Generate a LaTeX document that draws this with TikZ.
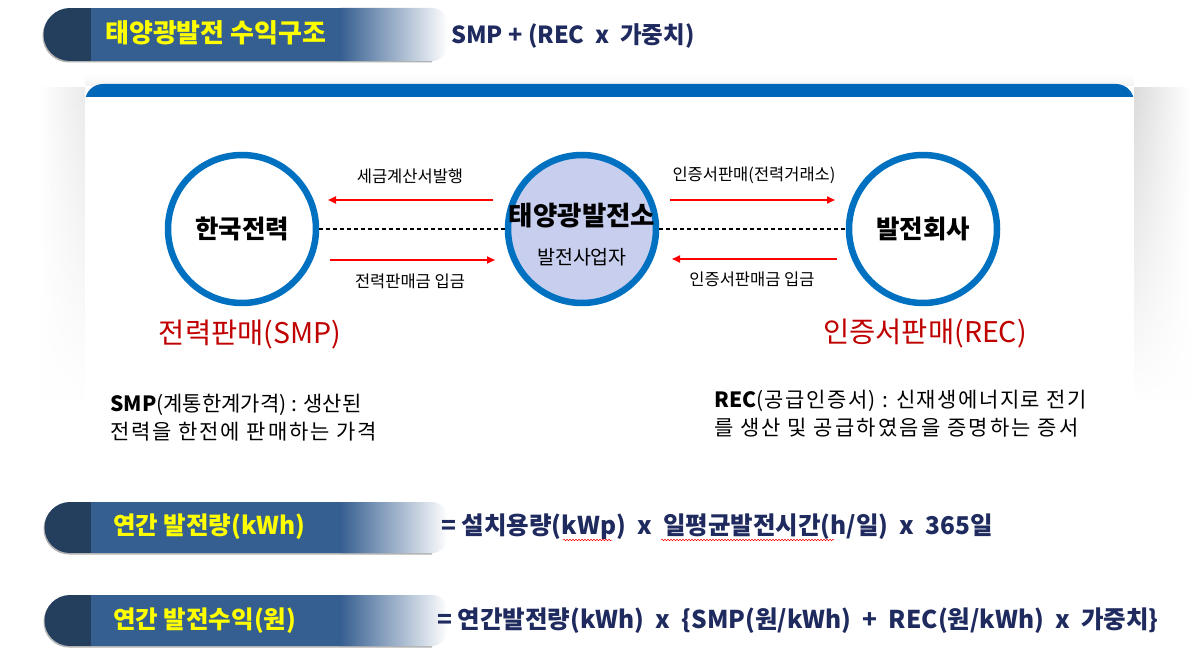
\documentclass[tikz,border=0pt]{standalone}
\usepackage{fontspec}
\setmainfont{Noto Sans CJK KR}
\usetikzlibrary{arrows.meta,fadings,decorations.pathmorphing}
\definecolor{darkcap}{HTML}{243F5E}
\definecolor{barblue}{HTML}{365F91}
\definecolor{yellowc}{HTML}{FFFF00}
\definecolor{navyc}{HTML}{1F2A5E}
\definecolor{cblue}{HTML}{0070C0}
\definecolor{cfill}{HTML}{C8CEEE}
\definecolor{redlabc}{HTML}{C00000}
\definecolor{panelblue}{HTML}{0066B8}
\newcommand\titlebar[2]{%
  \fill[black!30] (69,{#1+1.5}) -- (432,{#1+1.5}) -- (432,{#2+1.5}) -- (69,{#2+1.5})
     arc[start angle=90,end angle=270,radius={(#2-#1)/2}] -- cycle;
  \begin{scope}
    \clip (70,#1) -- (432,#1) arc[start angle=-90,end angle=0,radius=15]
      -- (447,{#2-15}) arc[start angle=0,end angle=90,radius=15]
      -- (70,#2) arc[start angle=90,end angle=270,radius={(#2-#1)/2}] -- cycle;
    \fill[darkcap] (40,#1) rectangle (91,#2);
    \fill[barblue] (91,#1) rectangle (341,#2);
    \shade[left color=barblue,right color=white] (340,#1) rectangle (448,#2);
  \end{scope}}
\tikzset{
  bartext/.style={font=\bfseries\fontsize{24.5}{28}\selectfont, text=yellowc, inner sep=0, anchor=west},
  navytext/.style={font=\bfseries\fontsize{24.5}{28}\selectfont, text=navyc, inner sep=0, anchor=west},
  bigc/.style={circle, draw=cblue, line width=6.5pt, minimum size=148pt, inner sep=0},
  redarrow/.style={draw=red, line width=1.8pt, -{Triangle[length=8pt,width=7pt]}},
  dashline/.style={draw=black, line width=1.6pt, dash pattern=on 4pt off 3pt},
  arrowlab/.style={font=\fontsize{16.5}{19}\selectfont, inner sep=0},
  redlab/.style={font=\fontsize{28.5}{32}\selectfont, text=redlabc, inner sep=0},
  desc/.style={font=\fontsize{21}{25}\selectfont, inner sep=0, anchor=base west},
  squig/.style={draw=red, line width=0.5pt, decorate, decoration={snake, amplitude=0.8pt, segment length=3pt}},
}
\begin{document}
\begin{tikzpicture}[x=1pt,y=-1pt]
\useasboundingbox (0,0) rectangle (1192,663);
\fill[white] (0,0) rectangle (1192,663);
% header
\titlebar{8}{61}
\node[bartext, font=\bfseries\fontsize{26}{30}\selectfont] (title) at (105,33) {태양광발전 수익구조};
\node[navytext, font=\bfseries\fontsize{23.5}{28}\selectfont] (f0) at (451,36) {SMP + (REC\ \ x\ \ 가중치)};
% panel shadows
\shade[top color=white,bottom color=black!5] (85,74) rectangle (1134,86);
\shade[left color=black!14,right color=white,path fading=south] (1134,88) rectangle (1190,400);
\shade[left color=white,right color=black!8,path fading=south] (38,88) rectangle (85,400);
\fill[white] (85,90) rectangle (1134,470);
\begin{scope}
  \clip (80,78) rectangle (1140,97);
  \fill[panelblue, rounded corners=18] (85,84) rectangle (1134,130);
\end{scope}
% circles
\node[bigc, font=\bfseries\fontsize{25.5}{28}\selectfont] (kepco) at (242,229) {한국전력};
\node[bigc, fill=cfill] (plant) at (582,229) {};
\node[font=\bfseries\fontsize{26.5}{30}\selectfont, inner sep=0] (plantt) at (582,216) {태양광발전소};
\node[font=\fontsize{19.5}{22}\selectfont, inner sep=0] (plants) at (582,257) {발전사업자};
\node[bigc, font=\bfseries\fontsize{25.5}{28}\selectfont] (genco) at (923,229) {발전회사};
% connectors
\draw[dashline] (kepco.east) -- (plant.west);
\draw[dashline] (plant.east) -- (genco.west);
\coordinate (a1s) at (493,200); \coordinate (a1e) at (328,200);
\coordinate (a2s) at (330,260); \coordinate (a2e) at (495,260);
\coordinate (a3s) at (670,200); \coordinate (a3e) at (835,200);
\coordinate (a4s) at (837,259); \coordinate (a4e) at (672,259);
\draw[redarrow] (a1s) -- (a1e);
\draw[redarrow] (a2s) -- (a2e);
\draw[redarrow] (a3s) -- (a3e);
\draw[redarrow] (a4s) -- (a4e);
\node[arrowlab] (l1) at (410,176) {세금계산서발행};
\node[arrowlab] (l2) at (410,281) {전력판매금 입금};
\node[arrowlab] (l3) at (754,175) {인증서판매(전력거래소)};
\node[arrowlab] (l4) at (752,279) {인증서판매금 입금};
% red labels
\node[redlab] (smp) at (250,335) {전력판매(SMP)};
\node[redlab] (rec) at (925,334) {인증서판매(REC)};
% descriptions
\node[desc] (smpd1) at (110,411) {\textbf{SMP}(계통한계가격) : 생산된};
\node[desc] (smpd2) at (110,439) {\addfontfeatures{LetterSpace=9}전력을 한전에 판매하는 가격};
\node[desc] (recd1) at (714,407) {\textbf{REC}\addfontfeatures{LetterSpace=7}(공급인증서) : 신재생에너지로 전기};
\node[desc] (recd2) at (714,435) {\addfontfeatures{LetterSpace=10}를 생산 및 공급하였음을 증명하는 증서};
% bottom bars
\titlebar{502}{553}
\node[bartext] (b1) at (113,527) {연간 발전량(kWh)};
\node[navytext] (fm1) at (441,527) {= 설치용량(kWp)\ \ x\ \ 일평균발전시간(h/일)\ \ x\ \ 365일};
\draw[squig] (563,540) -- (612,540);
\draw[squig] (661,540) -- (834,540);
\titlebar{595}{646}
\node[bartext] (b2) at (113,621) {연간 발전수익(원)};
\node[navytext] (fm2) at (437,621) {= 연간발전량(kWh)\ \ x\ \ \{SMP(원/kWh)\ \ +\ \ REC(원/kWh)\ \ x\ \ 가중치\}};
\end{tikzpicture}
\end{document}
